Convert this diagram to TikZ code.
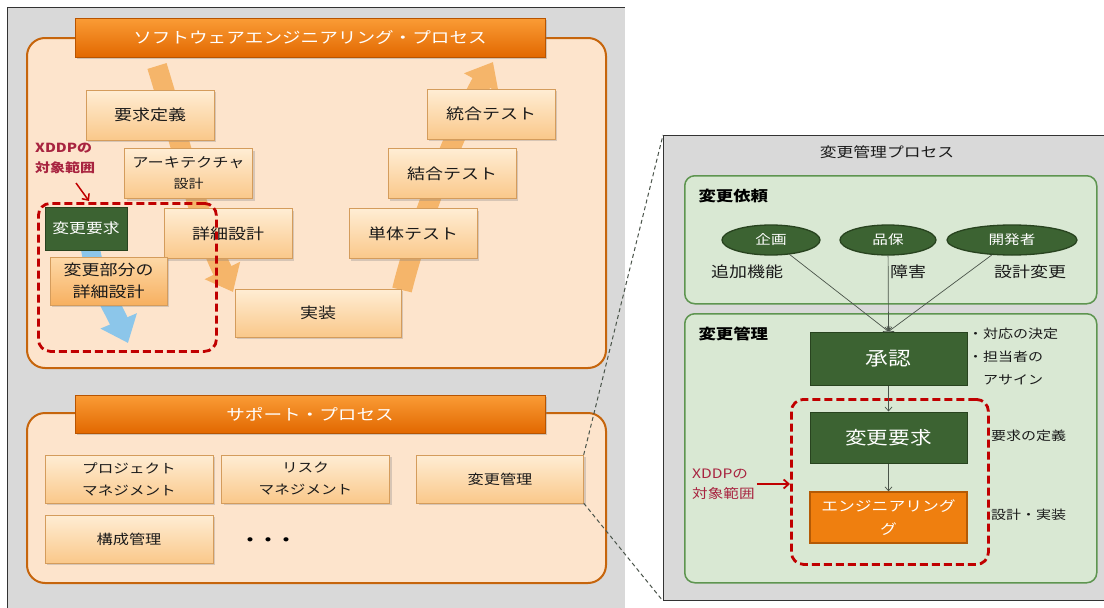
\documentclass[tikz,border=0pt]{standalone}
\usepackage{fontspec}
\setmainfont{Noto Sans CJK JP}[FakeStretch=1.2]
\usetikzlibrary{arrows.meta,shadows,shapes.geometric}
\definecolor{panelgray}{HTML}{D9D9D9}
\definecolor{peach}{HTML}{FDE4CC}
\definecolor{peachedge}{HTML}{C6650C}
\definecolor{boxtop}{HTML}{FFEDD4}
\definecolor{boxmid}{HTML}{FDD8A6}
\definecolor{boxbot}{HTML}{FAC88A}
\definecolor{boxedge}{HTML}{D49C5C}
\definecolor{bartop}{HTML}{FA9C36}
\definecolor{barbot}{HTML}{E26800}
\definecolor{baredge}{HTML}{B85400}
\definecolor{dgreen}{HTML}{3C6332}
\definecolor{dgreenedge}{HTML}{28431F}
\definecolor{lgreen}{HTML}{D9E8D3}
\definecolor{lgreenedge}{HTML}{5E9550}
\definecolor{xred}{HTML}{C00000}
\definecolor{xlabel}{HTML}{A82440}
\definecolor{varrow}{HTML}{F5B56A}
\definecolor{barrow}{HTML}{8CC6EA}
\definecolor{engorange}{HTML}{EF7F0F}
\definecolor{engedge}{HTML}{B45A05}
\definecolor{conncol}{HTML}{4A544A}
\definecolor{btop2}{HTML}{FDD9A8}
\definecolor{bmid2}{HTML}{FBC683}
\definecolor{bbot2}{HTML}{F7B060}
\definecolor{txt}{HTML}{1A1A1A}
\begin{document}
\begin{tikzpicture}[x=1pt,y=-1pt,
  vbox/.style={draw=boxedge, top color=boxtop, middle color=boxmid, bottom color=boxbot,
    minimum width=128pt, minimum height=50pt, inner sep=1pt, align=center, text=txt,
    font=\fontsize{15}{22}\selectfont,
    drop shadow={shadow xshift=2pt,shadow yshift=-2pt,opacity=0.3}},
  sbox/.style={vbox, minimum width=168pt, minimum height=48pt, font=\fontsize{13}{22}\selectfont},
  titlebar/.style={draw=baredge, top color=bartop, bottom color=barbot,
    minimum width=470pt, minimum height=39pt, text=white, inner sep=0pt,
    font=\fontsize{15.5}{18}\selectfont,
    drop shadow={shadow xshift=2pt,shadow yshift=-2pt,opacity=0.35}},
  container/.style={draw=peachedge, fill=peach, line width=2pt, rounded corners=18pt},
  gcont/.style={draw=lgreenedge, fill=lgreen, line width=1.5pt, rounded corners=10pt, inner sep=0pt},
  greenbox/.style={draw=dgreenedge, fill=dgreen, text=white, line width=1pt, inner sep=1pt, align=center},
  ell/.style={ellipse, draw=dgreenedge, line width=1.3pt, fill=dgreen, text=white,
    minimum height=30pt, inner sep=0pt, font=\fontsize{13}{16}\selectfont},
  reddash/.style={draw=xred, line width=2.8pt, dash pattern=on 8pt off 4pt, rounded corners=12pt, inner sep=0pt},
  xddp/.style={text=xlabel, align=left, inner sep=2pt},
  redarrow/.style={draw=xred, line width=1.8pt, -{Straight Barb[length=5pt,width=9pt]}},
  conn/.style={draw=conncol, line width=0.7pt, -{Straight Barb[length=4pt,width=7pt]}},
  zoomline/.style={draw=conncol, line width=1pt, dash pattern=on 4pt off 3pt},
  bigarrow/.style={line width=20pt, -{Triangle[length=24pt,width=38pt]}}
]
\useasboundingbox (0,0) rectangle (1104,608);
\fill[white] (0,0) rectangle (1104,608);
% left gray panel
\fill[panelgray] (7,7) rectangle (625,608);
\draw[black!80, line width=1pt] (7,608) -- (7,7) -- (625,7);

% software engineering container
\draw[container] (27,38) rectangle (606,368);
% V arrows
\coordinate (va1) at (157,66);
\coordinate (va2) at (233,292);
\coordinate (vb1) at (402,290);
\coordinate (vb2) at (493,62);
\draw[bigarrow, varrow] (va1) .. controls (180,140) and (200,225) .. (va2);
\draw[bigarrow, varrow] (vb1) .. controls (418,225) and (455,130) .. (vb2);
\node[titlebar] (setitle) at (310,37.5) {ソフトウェアエンジニアリング・プロセス};

\node[vbox] (yokyu) at (150,115) {要求定義};
\node[vbox, font=\fontsize{13.5}{21}\selectfont] (arch) at (188.5,173.5) {アーキテクチャ\\{\fontsize{12.5}{21}\selectfont 設計}};
\node[vbox] (shosai) at (228,233.5) {詳細設計};
\node[vbox, minimum width=166pt, minimum height=48pt] (jisso) at (318,313) {実装};
\node[vbox] (tantai) at (413,233.5) {単体テスト};
\node[vbox] (ketsugo) at (452,173.5) {結合テスト};
\node[vbox] (togo) at (491,114) {統合テスト};

% blue arrow + XDDP items
\coordinate (ba1) at (90,246);
\coordinate (ba2) at (128,343);
\draw[bigarrow, barrow, line width=19pt] (ba1) .. controls (96,285) and (112,305) .. (ba2);
\node[greenbox, minimum width=82pt, minimum height=43pt, font=\fontsize{14}{17}\selectfont] (lhenko) at (86,228.5) {変更要求};
\node[vbox, top color=btop2, middle color=bmid2, bottom color=bbot2,
  minimum width=117pt, minimum height=48pt] (lbubun) at (108.5,281) {変更部分の\\詳細設計};
\node[reddash, minimum width=178pt, minimum height=148pt, anchor=north west] (ldash) at (37,202) {};
\node[xddp, anchor=north west, font=\bfseries\fontsize{12.5}{20}\selectfont] (xddpL) at (33,141) {XDDPの\\対象範囲};
\coordinate (xl1) at (76,183);
\coordinate (xl2) at (89,201);
\draw[redarrow, line width=1.5pt] (xl1) -- (xl2);

% support process
\draw[container] (27,413) rectangle (606,583);
\node[titlebar, minimum height=38pt] (sptitle) at (310,414) {サポート・プロセス};
\node[sbox] (pm) at (129,479) {プロジェクト\\マネジメント};
\node[sbox] (rm) at (305.5,479) {リスク\\マネジメント};
\node[sbox, minimum width=167pt, font=\fontsize{13.5}{22}\selectfont] (henkoS) at (500,479) {変更管理};
\node[sbox, font=\fontsize{13.5}{22}\selectfont] (kosei) at (129,539) {構成管理};
\node[font=\bfseries\fontsize{15}{18}\selectfont] (dots) at (268,542) {・・・};

% right panel
\node[draw=black!80, line width=1pt, fill=panelgray, minimum width=447pt, minimum height=465pt,
  anchor=north west, inner sep=0pt] (rpanel) at (663,135) {};
\draw[zoomline] (henkoS.north east) -- (rpanel.north west);
\draw[zoomline] (henkoS.south east) -- (rpanel.south west);
\node[font=\fontsize{14}{17}\selectfont, text=txt] (rtitle) at (887,152) {変更管理プロセス};

\node[gcont, minimum width=412pt, minimum height=128pt, anchor=north west] (irai) at (684,175) {};
\node[anchor=west, font=\bfseries\fontsize{14.5}{17}\selectfont] (iraiL) at (695,196) {変更依頼};
\node[ell, minimum width=98pt] (kikaku) at (771,240) {企画};
\node[ell, minimum width=96pt] (hinpo) at (888,240) {品保};
\node[ell, minimum width=130pt] (kaihatsu) at (1012,240) {開発者};
\node[font=\fontsize{15}{18}\selectfont, text=txt] (tsuika) at (747,272) {追加機能};
\node[font=\fontsize{15}{18}\selectfont, text=txt] (shogai) at (908,272) {障害};
\node[font=\fontsize{15}{18}\selectfont, text=txt] (sekkei) at (1030,272) {設計変更};

\node[gcont, minimum width=412pt, minimum height=269pt, anchor=north west] (kanri) at (684,313) {};
\node[anchor=west, font=\bfseries\fontsize{14.5}{17}\selectfont] (kanriL) at (695,334) {変更管理};

\node[greenbox, minimum width=157pt, minimum height=53pt, font=\fontsize{19}{22}\selectfont] (shonin) at (888.5,358.5) {承認};
\node[greenbox, minimum width=157pt, minimum height=51pt, font=\fontsize{18}{22}\selectfont] (rhenko) at (888.5,437.5) {変更要求};
\node[draw=engedge, fill=engorange, text=white, line width=1.3pt, align=center, inner sep=1pt,
  minimum width=157pt, minimum height=51pt, font=\fontsize{14}{23}\selectfont] (eng) at (888.5,517.5) {エンジニアリング\\グ};
\node[reddash, minimum width=197pt, minimum height=165pt, anchor=north west] (rdash) at (790,398) {};

\draw[conn] (kikaku) -- (shonin.north);
\draw[conn] (hinpo) -- (shonin.north);
\draw[conn] (kaihatsu) -- (shonin.north);
\draw[conn] (shonin) -- (rhenko);
\draw[conn] (rhenko) -- (eng);

\node[anchor=west, font=\fontsize{12.5}{15}\selectfont, inner sep=0pt, text=txt] (b1) at (968,334) {・対応の決定};
\node[anchor=west, font=\fontsize{12.5}{15}\selectfont, inner sep=0pt, text=txt] (b2) at (968,357) {・担当者の};
\node[anchor=west, font=\fontsize{12.5}{15}\selectfont, inner sep=0pt, text=txt] (b3) at (983,380) {アサイン};
\node[anchor=west, font=\fontsize{12.5}{15}\selectfont, inner sep=0pt, text=txt] (yd) at (991,436) {要求の定義};
\node[anchor=west, font=\fontsize{12.5}{15}\selectfont, inner sep=0pt, text=txt] (sj) at (991,515) {設計・実装};

\node[xddp, anchor=west, font=\fontsize{13}{20}\selectfont] (xddpR) at (690,484) {XDDPの\\対象範囲};
\draw[redarrow] (xddpR.east) -- (rdash.west |- xddpR.east);
\end{tikzpicture}
\end{document}
